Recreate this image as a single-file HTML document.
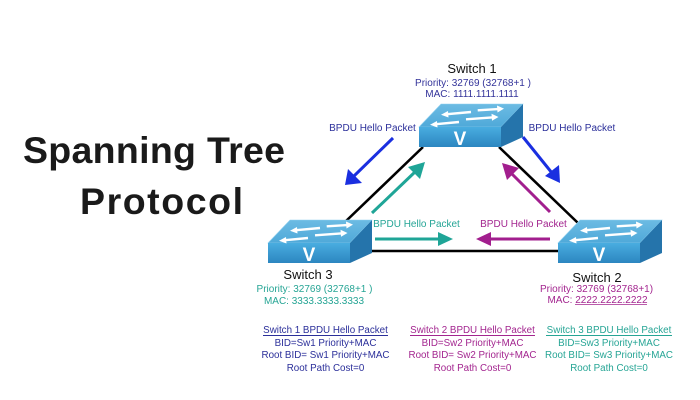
<!DOCTYPE html>
<html>
<head>
<meta charset="utf-8">
<style>
html,body{margin:0;padding:0;background:#fff;}
svg{display:block;}
text{font-family:"Liberation Sans",Arial,sans-serif;}
</style>
</head>
<body>
<svg width="700" height="400" viewBox="0 0 700 400" xmlns="http://www.w3.org/2000/svg">
<defs>
  <linearGradient id="front" x1="0" y1="0" x2="0" y2="1">
    <stop offset="0" stop-color="#49ade0"/>
    <stop offset="1" stop-color="#2c86c0"/>
  </linearGradient>
  <linearGradient id="topg" x1="0" y1="0" x2="0" y2="1">
    <stop offset="0" stop-color="#6cbbe3"/>
    <stop offset="1" stop-color="#4fa9d9"/>
  </linearGradient>
  <g id="sw">
    <polygon points="0,0 22,-23 104,-23 82,0" fill="url(#topg)" stroke="#8fd0f0" stroke-width="0.6"/>
    <rect x="0" y="0" width="82" height="20" fill="url(#front)"/>
    <polygon points="82,0 104,-23 104,10 82,20" fill="#2574ab"/>
    <text x="41" y="18" font-size="19" font-weight="bold" fill="#fff" text-anchor="middle">V</text>
    <g stroke="#fff" stroke-width="2.4" fill="#fff">
      <line x1="52" y1="-15" x2="28" y2="-12.8"/>
      <polygon points="22,-12.3 29,-16 29.5,-9.5" stroke="none"/>
      <line x1="58.7" y1="-16.7" x2="79" y2="-17.9"/>
      <polygon points="85,-18.4 78,-21.5 78.5,-14.5" stroke="none"/>
      <line x1="40" y1="-5" x2="17" y2="-2.8"/>
      <polygon points="11,-2.3 18,-6 18.5,0.5" stroke="none"/>
      <line x1="47" y1="-7.7" x2="73" y2="-9.6"/>
      <polygon points="79.5,-10 72.5,-13.3 73,-6.3" stroke="none"/>
    </g>
  </g>
</defs>

<!-- Title -->
<text x="23" y="163" font-size="37.5" font-weight="bold" fill="#1a1a1a" textLength="262" lengthAdjust="spacing">Spanning Tree</text>
<text x="80" y="214" font-size="37.5" font-weight="bold" fill="#1a1a1a" textLength="163" lengthAdjust="spacing">Protocol</text>

<!-- black links -->
<g stroke="#000" stroke-width="2.6" fill="none">
  <line x1="423" y1="147" x2="345" y2="222"/>
  <line x1="499" y1="147" x2="578" y2="223"/>
  <line x1="352" y1="251" x2="560" y2="251"/>
</g>

<!-- switches -->
<use href="#sw" x="419" y="127"/>
<use href="#sw" x="268" y="243"/>
<use href="#sw" x="558" y="243"/>

<!-- arrows -->
<g stroke-width="3">
  <line x1="393" y1="138" x2="354" y2="176" stroke="#1a2fe0"/>
  <polygon points="345,185 348,169 362,183" fill="#1a2fe0"/>
  <line x1="523" y1="137" x2="552" y2="173" stroke="#1a2fe0"/>
  <polygon points="560,183 545,176 559,165" fill="#1a2fe0"/>
  <line x1="372" y1="213" x2="416" y2="171" stroke="#1fa597"/>
  <polygon points="425,162 408,167 420,179" fill="#1fa597"/>
  <line x1="550" y1="212" x2="510" y2="172" stroke="#a21e8e"/>
  <polygon points="502,163 519,168 507,180" fill="#a21e8e"/>
  <line x1="375" y1="239" x2="440" y2="239" stroke="#1fa597"/>
  <polygon points="453,239 438,232 438,246" fill="#1fa597"/>
  <line x1="550" y1="239" x2="489" y2="239" stroke="#a21e8e"/>
  <polygon points="476,239 491,232 491,246" fill="#a21e8e"/>
</g>

<!-- BPDU labels -->
<g font-size="10" text-anchor="middle">
  <text x="372.5" y="131" fill="#2b2f9a">BPDU Hello Packet</text>
  <text x="572" y="131" fill="#2b2f9a">BPDU Hello Packet</text>
  <text x="416.5" y="227" fill="#25a596">BPDU Hello Packet</text>
  <text x="523.5" y="227" fill="#a3258f">BPDU Hello Packet</text>
</g>

<!-- Switch labels -->
<g text-anchor="middle">
  <text x="472" y="73" font-size="13" fill="#111">Switch 1</text>
  <text x="473" y="86" font-size="10" fill="#33339a">Priority: 32769 (32768+1 )</text>
  <text x="472" y="97" font-size="10" fill="#33339a">MAC: 1111.1111.1111</text>

  <text x="308" y="279" font-size="13" fill="#111">Switch 3</text>
  <text x="314.5" y="292" font-size="10" fill="#26a595">Priority: 32769 (32768+1 )</text>
  <text x="314" y="304" font-size="10" fill="#26a595">MAC: 3333.3333.3333</text>

  <text x="597" y="282" font-size="13" fill="#111">Switch 2</text>
  <text x="596.5" y="292" font-size="10" fill="#a3258f">Priority: 32769 (32768+1)</text>
  <text x="597.5" y="303" font-size="10" fill="#a3258f">MAC: 2222.2222.2222</text>
</g>
<line x1="575" y1="304.5" x2="647" y2="304.5" stroke="#a3258f" stroke-width="0.8"/>

<!-- bottom tables -->
<g font-size="9.8" text-anchor="middle">
  <g fill="#2b2f9a">
    <text x="325.5" y="333">Switch 1 BPDU Hello Packet</text>
    <text x="325.5" y="346">BID=Sw1 Priority+MAC</text>
    <text x="325.5" y="358">Root BID= Sw1 Priority+MAC</text>
    <text x="325.5" y="371">Root Path Cost=0</text>
  </g>
  <g fill="#a3258f">
    <text x="472.5" y="333">Switch 2 BPDU Hello Packet</text>
    <text x="472.5" y="346">BID=Sw2 Priority+MAC</text>
    <text x="472.5" y="358">Root BID= Sw2 Priority+MAC</text>
    <text x="472.5" y="371">Root Path Cost=0</text>
  </g>
  <g fill="#26a595">
    <text x="609" y="333">Switch 3 BPDU Hello Packet</text>
    <text x="609" y="346">BID=Sw3 Priority+MAC</text>
    <text x="609" y="358">Root BID= Sw3 Priority+MAC</text>
    <text x="609" y="371">Root Path Cost=0</text>
  </g>
</g>
<line x1="263" y1="335.5" x2="388" y2="335.5" stroke="#2b2f9a" stroke-width="0.9"/>
<line x1="410" y1="335.5" x2="535" y2="335.5" stroke="#a3258f" stroke-width="0.9"/>
<line x1="546" y1="335.5" x2="672" y2="335.5" stroke="#26a595" stroke-width="0.9"/>
</svg>
</body>
</html>
